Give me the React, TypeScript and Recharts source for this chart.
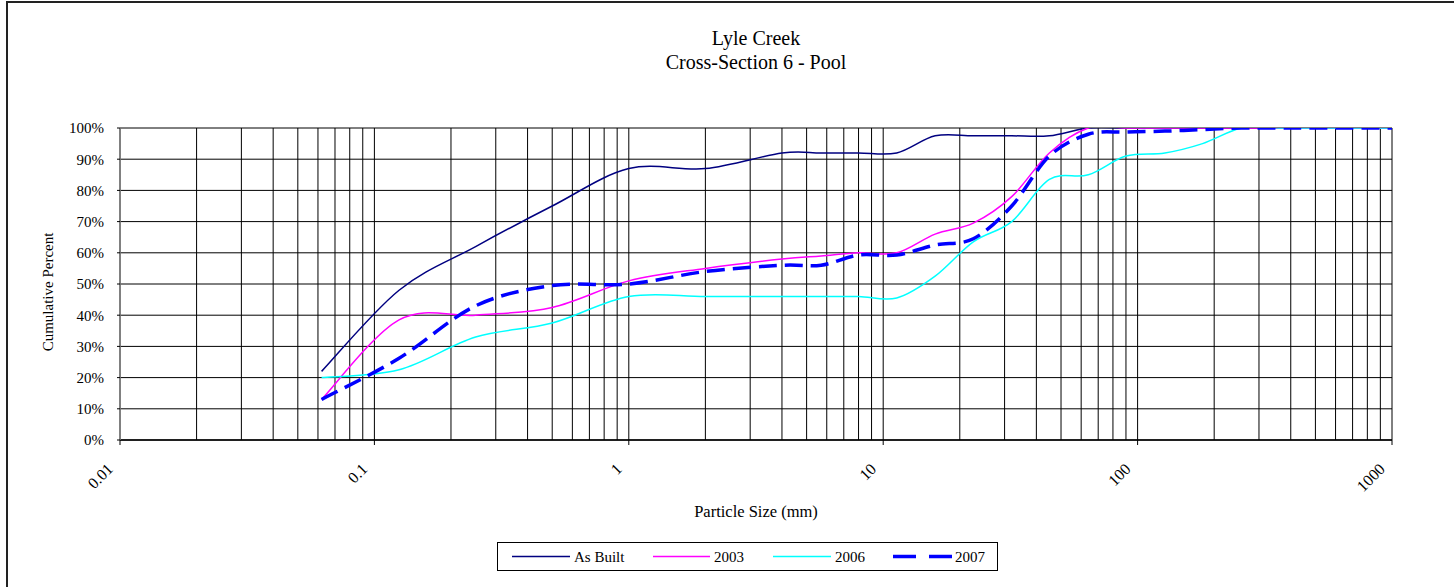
import React from "react";
import { LineChart, Line, XAxis, YAxis, CartesianGrid, Label } from "recharts";

// Particle sizes (mm) of the sieve classes
const sizes = [0.062, 0.125, 0.25, 0.5, 1, 2, 4, 5.7, 8, 11.3, 16, 22.6, 32, 45, 64, 90, 128, 180, 256, 362, 512, 1024];
// Cumulative percent finer for each survey
const asBuilt = [22, 48, 62, 75, 87, 87, 92, 92, 92, 92, 97.5, 97.5, 97.5, 97.5, 100, 100, 100, 100, 100, 100, 100, 100];
const s2003 = [13, 38.5, 40, 42.5, 51, 55, 58, 59, 60, 60, 66, 69.5, 78, 92, 100, 100, 100, 100, 100, 100, 100, 100];
const s2006 = [20, 22.5, 33, 37.5, 46, 46, 46, 46, 46, 45.5, 52.5, 63.5, 70, 83.5, 85, 91, 92, 95, 100, 100, 100, 100];
const s2007 = [13, 26.2, 43, 49.5, 50, 54, 56, 56, 59.3, 59.3, 62.5, 64.5, 75, 91, 98, 98.7, 99, 99.5, 100, 100, 100, 100];

const xTicks = [0.01, 0.1, 1, 10, 100, 1000];
const yTicks = [0, 10, 20, 30, 40, 50, 60, 70, 80, 90, 100];
const decades = [0.01, 0.1, 1, 10, 100];
const multipliers = [1, 2, 3, 4, 5, 6, 7, 8, 9];

const seriesNames = ["As Built", "2003", "2006", "2007"];

const data = sizes.map((s, i) => ({
  size: s,
  asBuilt: asBuilt[i],
  s2003: s2003[i],
  s2006: s2006[i],
  s2007: s2007[i],
}));

const gridX = decades
  .flatMap((d) => multipliers.map((m) => +(m * d).toPrecision(3)))
  .concat([1000]);

const FONT = '"Liberation Serif", "Times New Roman", serif';

// Excel-like smoothed line (Catmull-Rom style Bezier)
function smoothCurve(context: any) {
  let pts: number[][] = [];
  return {
    areaStart() {},
    areaEnd() {},
    lineStart() {
      pts = [];
    },
    point(x: number, y: number) {
      pts.push([+x, +y]);
    },
    lineEnd() {
      const n = pts.length;
      if (!n) return;
      context.moveTo(pts[0][0], pts[0][1]);
      for (let i = 0; i < n - 1; i++) {
        const p0 = pts[i - 1] || pts[i];
        const p1 = pts[i];
        const p2 = pts[i + 1];
        const p3 = pts[i + 2] || p2;
        const c1x = p1[0] + (p2[0] - p0[0]) / 6;
        const c1y = p1[1] + (p2[1] - p0[1]) / 6;
        const c2x = p2[0] - (p3[0] - p1[0]) / 6;
        const c2y = p2[1] - (p3[1] - p1[1]) / 6;
        context.bezierCurveTo(c1x, c1y, c2x, c2y, p2[0], p2[1]);
      }
    },
  };
}

const XTick = (props: any) => {
  const { x, y, payload } = props;
  const tx = x - 6;
  const ty = y + 23;
  return (
    <text
      x={tx}
      y={ty}
      transform={`rotate(-45 ${tx} ${ty})`}
      textAnchor="end"
      fontSize={16}
      fontFamily={FONT}
      fill="#000"
    >
      {String(payload.value)}
    </text>
  );
};

const legendItems = [
  { name: seriesNames[0], color: "#000080", width: 1.5, dash: undefined as string | undefined, x1: 14, x2: 72, tx: 76 },
  { name: seriesNames[1], color: "#FF00FF", width: 1.5, dash: undefined, x1: 155, x2: 212, tx: 216 },
  { name: seriesNames[2], color: "#00FFFF", width: 1.5, dash: undefined, x1: 275, x2: 333, tx: 337 },
  { name: seriesNames[3], color: "#0000FF", width: 3.5, dash: "23 13", x1: 395, x2: 454, tx: 457 },
];

export default function App() {
  return (
    <div
      style={{
        position: "absolute",
        left: 0,
        top: 0,
        width: 1454,
        height: 587,
        overflow: "hidden",
        background: "#fff",
        fontFamily: FONT,
      }}
    >
      <div
        style={{
          position: "absolute",
          left: 6,
          top: 1,
          width: 2000,
          height: 2000,
          border: "2px solid #222",
        }}
      />
      <div
        style={{
          position: "absolute",
          left: 0,
          top: 0,
          width: 1454,
          height: 587,
        }}
      >
        <LineChart
          width={1454}
          height={587}
          data={data}
          margin={{ top: 128, right: 62, bottom: 87, left: 0 }}
        >
          <CartesianGrid
            stroke="#000"
            strokeWidth={1}
            verticalValues={gridX}
            horizontalValues={yTicks}
          />
          <XAxis
            dataKey="size"
            type="number"
            scale="log"
            domain={[0.01, 1000]}
            allowDataOverflow
            ticks={xTicks}
            interval={0}
            height={60}
            tickSize={5}
            tickMargin={2}
            tick={<XTick />}
            axisLine={{ stroke: "#000", strokeWidth: 1.5 }}
            tickLine={{ stroke: "#000" }}
          >
            <Label
              content={() => (
                <text x={756} y={517} textAnchor="middle" fontSize={16.5} fontFamily={FONT} fill="#000">
                  Particle Size (mm)
                </text>
              )}
            />
          </XAxis>
          <YAxis
            type="number"
            domain={[0, 100]}
            allowDataOverflow
            ticks={yTicks}
            interval={0}
            width={120}
            tickSize={3}
            tickMargin={13}
            tickFormatter={(v: number) => `${v}%`}
            tick={{ fontSize: 15, fontFamily: FONT, fill: "#000" }}
            axisLine={{ stroke: "#808080", strokeWidth: 1.5 }}
            tickLine={{ stroke: "#000" }}
          >
            <Label
              content={() => (
                <text
                  x={53}
                  y={292}
                  transform="rotate(-90 53 292)"
                  textAnchor="middle"
                  fontSize={15}
                  fontFamily={FONT}
                  fill="#000"
                >
                  Cumulative Percent
                </text>
              )}
            />
          </YAxis>
          <Line
            dataKey="asBuilt"
            name={seriesNames[0]}
            type={smoothCurve as any}
            stroke="#000080"
            strokeWidth={1.5}
            dot={false}
            activeDot={false}
            isAnimationActive={false}
          />
          <Line
            dataKey="s2003"
            name={seriesNames[1]}
            type={smoothCurve as any}
            stroke="#FF00FF"
            strokeWidth={1.5}
            dot={false}
            activeDot={false}
            isAnimationActive={false}
          />
          <Line
            dataKey="s2006"
            name={seriesNames[2]}
            type={smoothCurve as any}
            stroke="#00FFFF"
            strokeWidth={1.5}
            dot={false}
            activeDot={false}
            isAnimationActive={false}
          />
          <Line
            dataKey="s2007"
            name={seriesNames[3]}
            type={smoothCurve as any}
            stroke="#0000FF"
            strokeWidth={3.5}
            strokeDasharray="18 8"
            dot={false}
            activeDot={false}
            isAnimationActive={false}
          />
        </LineChart>
      </div>
      <div
        style={{
          position: "absolute",
          left: 28,
          top: 26,
          width: 1456,
          textAlign: "center",
          fontSize: 20,
          lineHeight: "24px",
          color: "#000",
        }}
      >
        <div>Lyle Creek</div>
        <div>Cross-Section 6 - Pool</div>
      </div>
      <div
        style={{
          position: "absolute",
          left: 497,
          top: 542,
          width: 499,
          height: 27,
          border: "1px solid #000",
          background: "#fff",
        }}
      >
        <svg width={499} height={27} style={{ display: "block" }}>
          {legendItems.map((it) => (
            <g key={it.name}>
              <line
                x1={it.x1}
                x2={it.x2}
                y1={13.5}
                y2={13.5}
                stroke={it.color}
                strokeWidth={it.width}
                strokeDasharray={it.dash}
              />
              <text x={it.tx} y={19} fontSize={15} fontFamily={FONT} fill="#000">
                {it.name}
              </text>
            </g>
          ))}
        </svg>
      </div>
    </div>
  );
}
